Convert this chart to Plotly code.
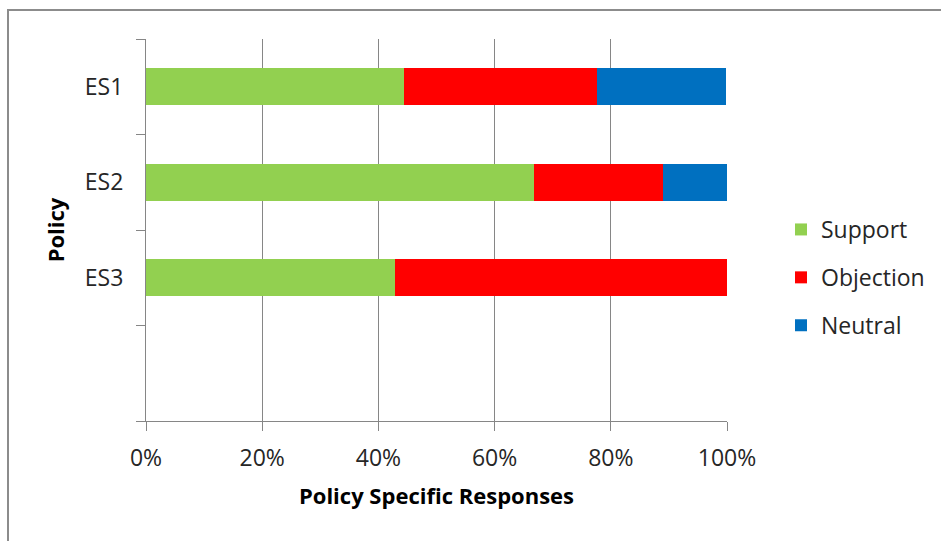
import plotly.graph_objects as go

categories = ["ES1", "ES2", "ES3"]
support = [0.444, 0.667, 0.429]
objection = [0.333, 0.222, 0.571]
neutral = [0.222, 0.111, 0.0]
series_names = ["Support", "Objection", "Neutral"]
colors = ["#92D050", "#FF0000", "#0070C0"]
x_ticks = [0, 0.2, 0.4, 0.6, 0.8, 1.0]

W, H = 941, 541
ML, MR, MT, MB = 146, 214, 39, 120
PW, PH = W - ML - MR, H - MT - MB

axis_cats = [" "] + categories[::-1]

fig = go.Figure()
for name, vals, col in zip(series_names, [support, objection, neutral], colors):
    fig.add_trace(go.Bar(
        y=categories, x=vals, name=name, orientation="h",
        marker=dict(color=col, line=dict(width=0)),
        legendgroup=name,
    ))

font = "'Open Sans', Lato, sans-serif"
grid = "#868686"

fig.update_layout(
    width=W, height=H,
    margin=dict(l=ML, r=MR, t=MT, b=MB, autoexpand=False),
    barmode="stack",
    bargap=0.61,
    plot_bgcolor="white", paper_bgcolor="white",
    font=dict(family=font, size=23, color="#262626"),
    showlegend=True,
    legend=dict(
        x=(781 - ML) / PW, xanchor="left",
        y=1 - (208 - MT) / PH, yanchor="top",
        tracegroupgap=15,
        font=dict(size=23, family=font, color="#262626"),
        bgcolor="rgba(0,0,0,0)",
        itemclick=False,
    ),
    xaxis=dict(
        range=[0, 1],
        tickvals=x_ticks,
        tickformat=".0%",
        showgrid=True, gridcolor=grid, gridwidth=1,
        showline=True, linecolor=grid, linewidth=1,
        ticks="outside", ticklen=9, tickcolor=grid,
        ticklabelstandoff=7,
        zeroline=False,
        automargin=False,
        tickfont=dict(size=23, family=font, color="#262626"),
        title=dict(text="<b>Policy Specific Responses</b>", standoff=17,
                   font=dict(size=22, family=font, color="#000000")),
        fixedrange=True,
    ),
    yaxis=dict(
        type="category",
        categoryorder="array", categoryarray=axis_cats,
        range=[-0.5, len(axis_cats) - 0.5],
        tickson="boundaries",
        showgrid=False,
        showline=True, linecolor=grid, linewidth=1,
        ticks="outside", ticklen=9, tickcolor=grid,
        ticklabelstandoff=17,
        automargin=False,
        tickfont=dict(size=23, family=font, color="#262626"),
        title=dict(text="<b>Policy</b>", standoff=14,
                   font=dict(size=22, family=font, color="#000000")),
        fixedrange=True,
    ),
    shapes=[dict(
        type="rect", xref="paper", yref="paper",
        x0=(8 - ML) / PW, x1=(W + 5 - ML) / PW,
        y0=1 + (MT - 10) / PH, y1=1 - (H + 5 - MT) / PH,
        line=dict(color="#8C8C8C", width=2), layer="below",
    )],
)

fig.write_html("out.html")
